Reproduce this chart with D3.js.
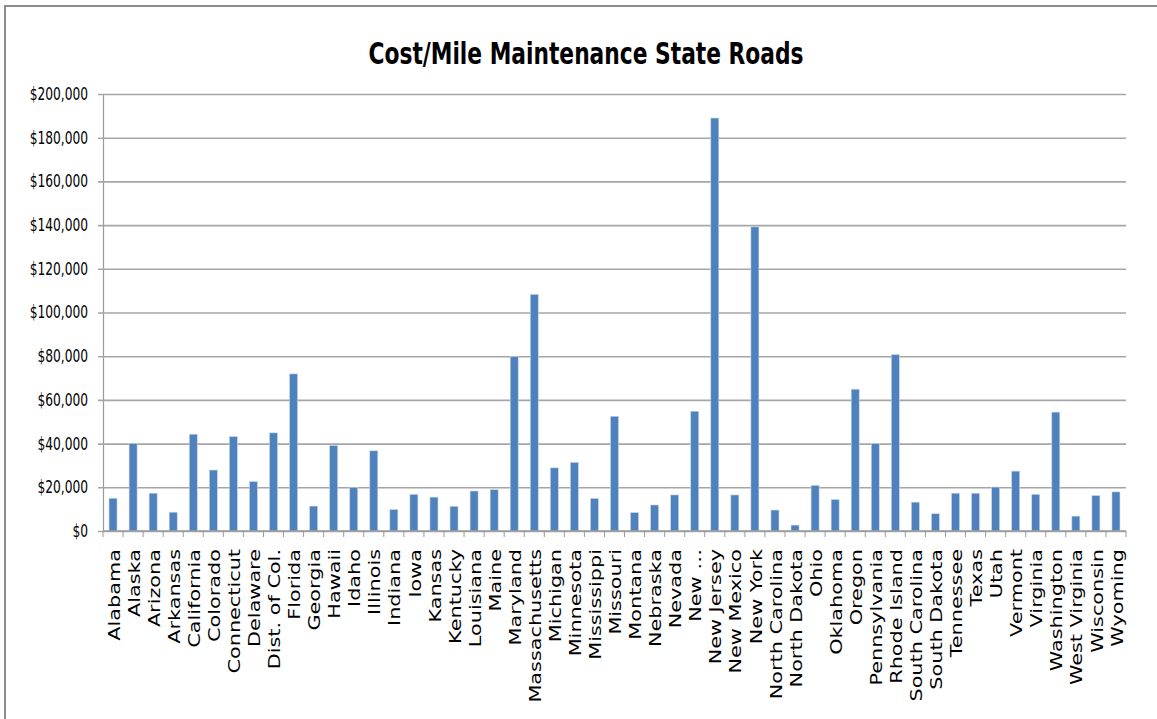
<!DOCTYPE html>
<html>
<head>
<meta charset="utf-8">
<script src="https://cdn.jsdelivr.net/npm/d3@7"></script>
<style>
  body { margin: 0; background: #fff; }
  svg { display: block; }
</style>
</head>
<body>
<div id="chart"></div>
<script>
var states = ["Alabama","Alaska","Arizona","Arkansas","California","Colorado","Connecticut","Delaware","Dist. of Col.","Florida",
  "Georgia","Hawaii","Idaho","Illinois","Indiana","Iowa","Kansas","Kentucky","Louisiana","Maine",
  "Maryland","Massachusetts","Michigan","Minnesota","Mississippi","Missouri","Montana","Nebraska","Nevada","New …",
  "New Jersey","New Mexico","New York","North Carolina","North Dakota","Ohio","Oklahoma","Oregon","Pennsylvania","Rhode Island",
  "South Carolina","South Dakota","Tennessee","Texas","Utah","Vermont","Virginia","Washington","West Virginia","Wisconsin","Wyoming"];

var costPerMile = [15000,40100,17300,8600,44300,27900,43200,22600,44900,71900,
  11400,39100,20000,36700,9800,16800,15500,11300,18300,18900,
  79800,108300,28900,31400,14900,52500,8400,11900,16500,54800,
  189000,16500,139200,9600,2700,20900,14400,64900,40000,80700,
  13200,7900,17300,17300,20100,27400,16800,54400,6800,16200,17900];

var yTicks = [0,20000,40000,60000,80000,100000,120000,140000,160000,180000,200000];

var width = 1157, height = 719;
var margin = {top: 94, right: 31, bottom: 188, left: 103};

var svg = d3.select("#chart").append("svg")
  .attr("width", width)
  .attr("height", height);

// outer frame (only top/left visible in the shot)
svg.append("rect")
  .attr("x", 5).attr("y", 6)
  .attr("width", width + 20).attr("height", height + 20)
  .attr("fill", "none")
  .attr("stroke", "#8c8c8c")
  .attr("stroke-width", 2);

svg.append("text")
  .attr("x", 586)
  .attr("y", 64)
  .attr("text-anchor", "middle")
  .attr("textLength", 435)
  .attr("lengthAdjust", "spacingAndGlyphs")
  .style("font-family", "'Liberation Sans Narrow','DejaVu Sans Condensed',sans-serif")
  .style("font-weight", "bold")
  .style("font-size", "30px")
  .style("fill", "#000")
  .text("Cost/Mile Maintenance State Roads");

var x = d3.scaleBand()
  .domain(states)
  .range([margin.left, width - margin.right])
  .paddingInner(0)
  .paddingOuter(0);

var y = d3.scaleLinear()
  .domain([0, 200000])
  .range([height - margin.bottom, margin.top]);

// gridlines + y axis
var yAxis = svg.append("g")
  .attr("transform", "translate(" + margin.left + ",0)")
  .call(d3.axisLeft(y)
    .tickValues(yTicks)
    .tickSize(-(width - margin.right - margin.left))
    .tickSizeOuter(0)
    .tickFormat(function(d){ return "$" + d3.format(",")(d); }));

yAxis.select(".domain").attr("stroke", "#9a9a9a").attr("stroke-width", 1.2);
yAxis.selectAll(".tick line")
  .attr("x1", -5)
  .attr("stroke", "#a6a6a6")
  .attr("stroke-width", 1.6);
yAxis.selectAll(".tick text")
  .attr("x", 0)
  .attr("transform", "translate(-15,0) scale(0.8,1)")
  .style("font-family", "'Liberation Sans Narrow','DejaVu Sans Condensed',sans-serif")
  .style("font-size", "17px")
  .attr("fill", "#000");

// bars
svg.append("g").selectAll("rect")
  .data(states)
  .enter()
  .append("rect")
  .attr("x", function(d){ return x(d) + x.bandwidth() / 2 - 4; })
  .attr("width", 8)
  .attr("y", function(d, i){ return y(costPerMile[i]); })
  .attr("height", function(d, i){ return y(0) - y(costPerMile[i]); })
  .attr("fill", "#4f81bd")
  .attr("stroke", "#c6d6ea")
  .attr("stroke-width", 0.6);

// x axis with ticks on category boundaries
var xAxis = svg.append("g")
  .attr("transform", "translate(0," + y(0) + ")");

xAxis.append("line")
  .attr("x1", margin.left).attr("x2", width - margin.right)
  .attr("stroke", "#9a9a9a")
  .attr("stroke-width", 1.6);

xAxis.selectAll(".bound")
  .data(states.concat(["end"]))
  .enter()
  .append("line")
  .attr("class", "bound")
  .attr("x1", function(d, i){ return margin.left + i * x.step(); })
  .attr("x2", function(d, i){ return margin.left + i * x.step(); })
  .attr("y1", 0).attr("y2", 6)
  .attr("stroke", "#9a9a9a")
  .attr("stroke-width", 1);

xAxis.selectAll(".lbl")
  .data(states)
  .enter()
  .append("text")
  .attr("class", "lbl")
  .attr("transform", function(d){ return "translate(" + (x(d) + x.bandwidth() / 2 + 1) + ",18) rotate(-90) scale(1.3,1)"; })
  .attr("dy", "0.35em")
  .attr("text-anchor", "end")
  .style("font-family", "'DejaVu Sans',sans-serif")
  .style("font-size", "16px")
  .attr("fill", "#000")
  .text(function(d){ return d; });
</script>
</body>
</html>
